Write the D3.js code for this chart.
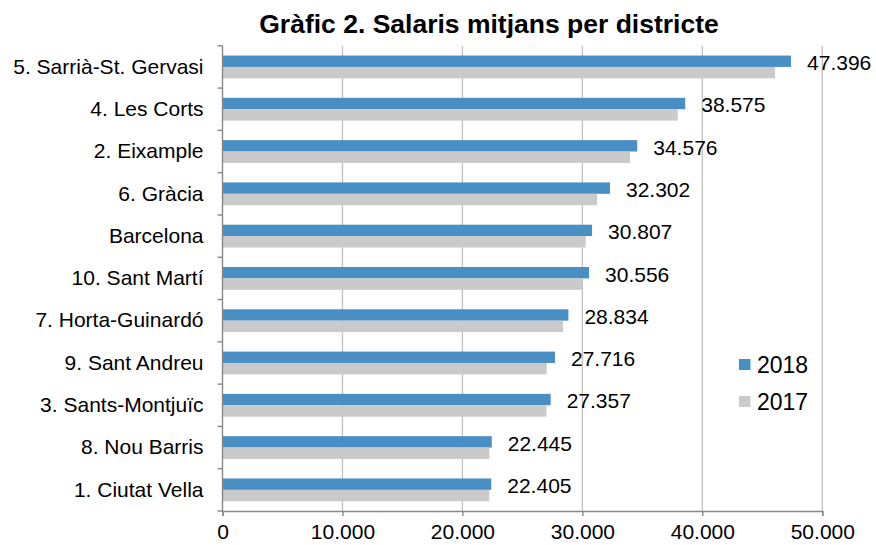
<!DOCTYPE html>
<meta charset="utf-8">
<title>Salaris mitjans per districte</title>
<style>
body { margin: 0; background: #fff; font-family: "Liberation Sans", Arial, sans-serif; }
.grid line { stroke: #c0c0c0; stroke-width: 1.3; }
.axis path, .axis line { stroke: #888; stroke-width: 1.4; }
.axis text { fill: #000; font-size: 21px; font-family: "Liberation Sans", Arial, sans-serif; }
.label { font-size: 21px; fill: #000; }
</style>
<svg width="876" height="545"></svg>
<script src="https://d3js.org/d3.v7.min.js"></script>
<script>
// data (2017)
const districts = ["5. Sarrià-St. Gervasi", "4. Les Corts", "2. Eixample", "6. Gràcia", "Barcelona",
  "10. Sant Martí", "7. Horta-Guinardó", "9. Sant Andreu", "3. Sants-Montjuïc", "8. Nou Barris", "1. Ciutat Vella"];
const salari2018 = [47396, 38575, 34576, 32302, 30807, 30556, 28834, 27716, 27357, 22445, 22405];
const salari2017 = [46060, 37950, 33970, 31220, 30280, 30030, 28390, 27030, 27000, 22240, 22240];
const years = ["2018", "2017"];
const colors = {"2018": "#4a8fc4", "2017": "#cacaca"};
const xTicks = [0, 10000, 20000, 30000, 40000, 50000];

const svg = d3.select("svg");
const m = {left: 222.5, right: 822.3, top: 45.8, bottom: 511};

const fmt = d3.formatLocale({decimal: ",", thousands: ".", grouping: [3], currency: ["", "€"]}).format(",");

const x = d3.scaleLinear().domain([0, 50000]).range([m.left, m.right]);
const y = d3.scaleBand().domain(districts).range([m.top, m.bottom]);
const barH = 11.4;
const yIn = d3.scaleBand().domain(years).range([y.bandwidth() / 2 - barH, y.bandwidth() / 2 + barH]);

// title
svg.append("text")
  .attr("x", 489).attr("y", 33)
  .attr("text-anchor", "middle")
  .style("font-weight", "bold").style("font-size", "26.5px")
  .text("Gràfic 2. Salaris mitjans per districte");

// gridlines
svg.append("g").attr("class", "grid")
  .selectAll("line").data(xTicks.slice(1)).join("line")
  .attr("x1", d => x(d)).attr("x2", d => x(d))
  .attr("y1", m.top).attr("y2", m.bottom);

// bars
const rows = districts.map((d, i) => ({name: d, "2018": salari2018[i], "2017": salari2017[i]}));
const g = svg.append("g").selectAll("g").data(rows).join("g")
  .attr("transform", d => `translate(0,${y(d.name)})`);
g.selectAll("rect").data(d => years.map(k => ({k, v: d[k]}))).join("rect")
  .attr("x", x(0))
  .attr("y", d => yIn(d.k))
  .attr("width", d => x(d.v) - x(0))
  .attr("height", yIn.bandwidth())
  .attr("fill", d => colors[d.k]);

// value labels for 2018
g.append("text").attr("class", "label")
  .attr("x", d => x(d["2018"]) + 16)
  .attr("y", d => yIn("2018") + yIn.bandwidth() / 2 + 1.5)
  .attr("dy", "0.35em")
  .text(d => fmt(d["2018"]));

// axes
svg.append("g").attr("class", "axis")
  .attr("transform", `translate(0,${m.bottom})`)
  .call(d3.axisBottom(x).tickValues(xTicks).tickFormat(fmt).tickSizeOuter(0).tickSize(5).tickPadding(8));

const yAxis = svg.append("g").attr("class", "axis")
  .attr("transform", `translate(${m.left},0)`)
  .call(d3.axisLeft(y).tickSize(0).tickPadding(19));
yAxis.select(".domain").attr("d", `M0,${m.top}V${m.bottom}`);
yAxis.selectAll(".tick line").remove();
yAxis.selectAll(".bt").data(d3.range(districts.length + 1)).join("line")
  .attr("x1", -5).attr("x2", 0)
  .attr("y1", i => m.top + i * y.step()).attr("y2", i => m.top + i * y.step());

// legend
const leg = svg.append("g").selectAll("g").data(years).join("g")
  .attr("transform", (d, i) => `translate(739,${359 + i * 37})`);
leg.append("rect").attr("width", 11.5).attr("height", 11).attr("fill", d => colors[d]);
leg.append("text").attr("x", 18).attr("y", 13.5)
  .style("font-size", "23px").text(d => d);
</script>
